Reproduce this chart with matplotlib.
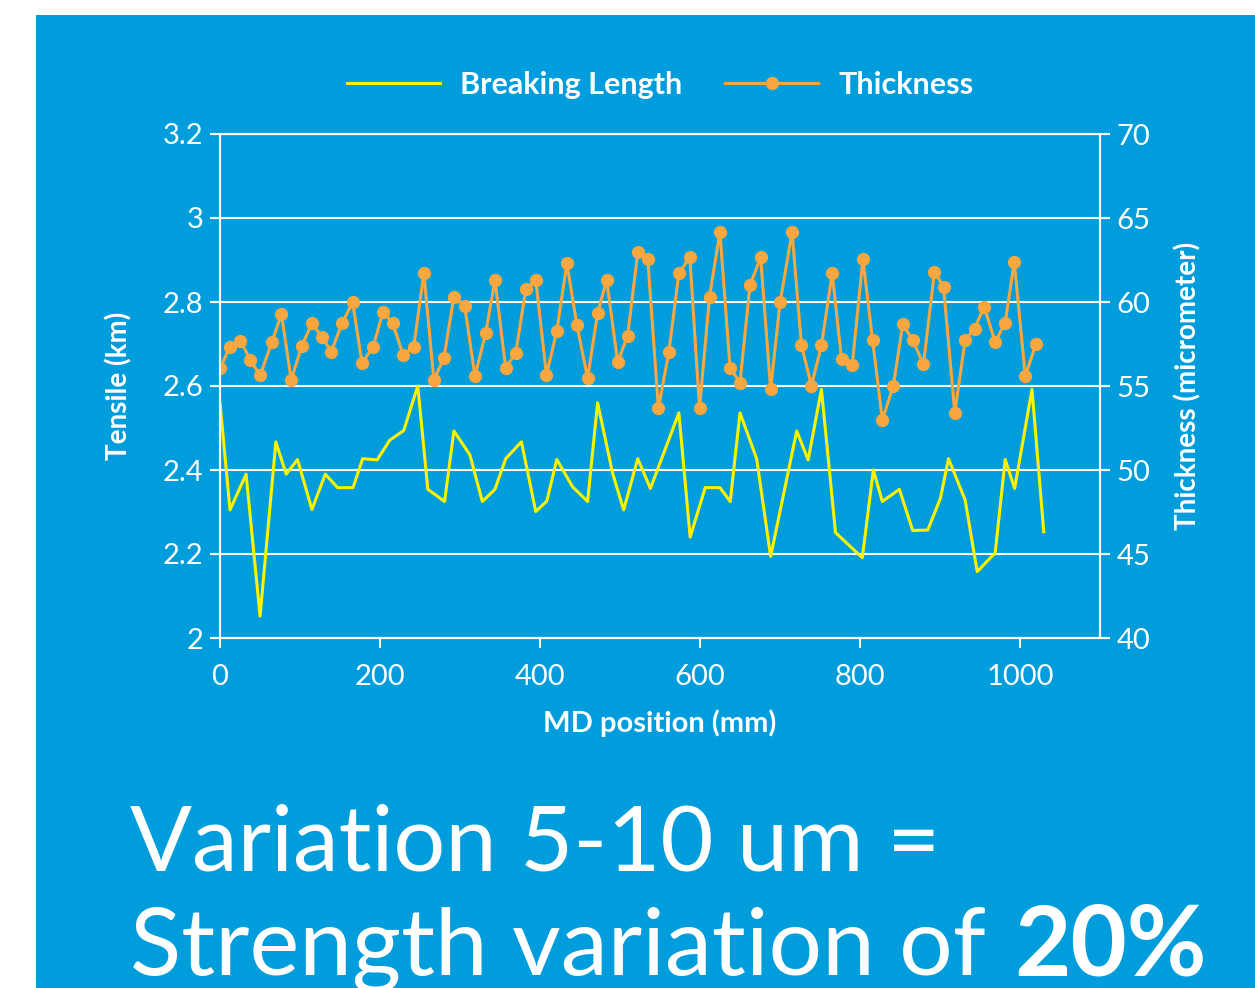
import matplotlib
matplotlib.use('Agg')
import matplotlib.pyplot as plt
from matplotlib.patches import Rectangle

# thickness samples (MD position in mm, thickness in micrometer)
thick_pos = [0, 12.5, 25.4, 38.0, 50.1, 64.8, 76.8, 89.0, 102.4, 114.9,
             127.4, 139.1, 152.5, 165.8, 177.6, 191.4, 203.9, 215.9, 228.9, 242.2,
             254.8, 267.3, 279.8, 292.4, 305.8, 318.7, 332.1, 343.7, 357.1, 369.7,
             382.2, 394.7, 408.1, 421.0, 433.6, 446.1, 459.5, 472.0, 483.3, 497.1,
             509.6, 522.2, 534.7, 548.0, 561.0, 573.6, 587.3, 599.4, 611.9, 624.9,
             637.5, 650.0, 662.5, 675.8, 688.3, 700.1, 715.1, 726.8, 739.3, 751.8,
             765.3, 776.9, 790.3, 803.6, 815.7, 827.9, 841.7, 853.4, 865.9, 879.3,
             893.1, 904.4, 918.5, 931.4, 943.2, 955.2, 969.0, 981.5, 992.8, 1006.6,
             1020.0]
thickness = [56.05, 57.34, 57.70, 56.55, 55.63, 57.6, 59.29, 55.36, 57.4, 58.73,
             57.93, 57.04, 58.73, 59.98, 56.35, 57.34, 59.42, 58.73, 56.85, 57.34,
             61.71, 55.36, 56.65, 60.32, 59.76, 55.6, 58.14, 61.31, 56.07, 56.98,
             60.75, 61.31, 55.65, 58.29, 62.3, 58.63, 55.48, 59.33, 61.31, 56.43,
             58.0, 62.96, 62.56, 53.67, 57.0, 61.71, 62.66, 53.67, 60.32, 64.17,
             56.09, 55.2, 61.01, 62.66, 54.8, 59.98, 64.17, 57.42, 55.02, 57.42,
             61.71, 56.59, 56.25, 62.54, 57.74, 52.98, 55.02, 58.67, 57.74, 56.29,
             61.8, 60.91, 53.41, 57.74, 58.41, 59.72, 57.62, 58.77, 62.4, 55.6,
             57.5]

# breaking length samples (MD position in mm, tensile in km)
bl_pos = [0, 12.5, 32.6, 50.1, 69.8, 82.7, 96.9, 114.9, 131.6, 147.0,
          166.3, 178.3, 196.4, 212.2, 229.7, 247.2, 259.8, 280.7, 292.4, 312.4,
          327.9, 343.7, 357.1, 376.8, 394.7, 408.5, 421.0, 440.7, 459.5, 472.0,
          490.8, 504.6, 522.2, 538.0, 573.6, 587.7, 606.5, 624.9, 637.8, 650.0,
          670.8, 688.3, 720.9, 735.2, 751.8, 769.4, 802.9, 816.7, 827.9, 849.2,
          865.9, 884.7, 900.6, 910.6, 931.4, 946.5, 969.0, 981.5, 993.3, 1015.0,
          1029.7]
breaking_length = [2.56, 2.305, 2.39, 2.052, 2.467, 2.39, 2.425, 2.306, 2.39, 2.358,
                   2.358, 2.427, 2.424, 2.471, 2.494, 2.60, 2.354, 2.325, 2.493, 2.436,
                   2.325, 2.354, 2.427, 2.467, 2.301, 2.326, 2.425, 2.36, 2.325, 2.56,
                   2.392, 2.305, 2.427, 2.356, 2.536, 2.24, 2.358, 2.358, 2.325, 2.536,
                   2.427, 2.194, 2.493, 2.424, 2.592, 2.251, 2.191, 2.4, 2.325, 2.354,
                   2.256, 2.257, 2.333, 2.427, 2.329, 2.158, 2.203, 2.425, 2.356, 2.592,
                   2.253]

left_ticks = [2, 2.2, 2.4, 2.6, 2.8, 3, 3.2]
left_labels = ['2', '2.2', '2.4', '2.6', '2.8', '3', '3.2']
right_ticks = [40, 45, 50, 55, 60, 65, 70]
x_ticks = [0, 200, 400, 600, 800, 1000]

blue = '#009ddc'
yellow = '#fff200'
orange = '#f9a73e'

plt.rcParams['font.family'] = ['Lato', 'DejaVu Sans']

fig = plt.figure(figsize=(12.55, 9.88), dpi=100)
fig.patch.set_facecolor('white')
fig.patches.append(Rectangle((36 / 1255, 0), 1 - 36 / 1255, 1 - 15 / 988,
                             transform=fig.transFigure, facecolor=blue,
                             edgecolor='none', zorder=-5))

ax = fig.add_axes([220 / 1255, 1 - 638 / 988, 880 / 1255, 504 / 988])
ax.set_facecolor(blue)
ax2 = ax.twinx()

l1, = ax.plot(bl_pos, breaking_length, color=yellow, lw=2.2, label='Breaking Length')
l2, = ax2.plot(thick_pos, thickness, color=orange, lw=2.2, marker='o', ms=8.5,
               label='Thickness')

ax.set_xlim(0, 1100)
ax.set_ylim(2, 3.2)
ax2.set_ylim(40, 70)
ax.set_xticks(x_ticks)
ax.set_yticks(left_ticks)
ax.set_yticklabels(left_labels)
ax2.set_yticks(right_ticks)

ax.grid(axis='y', color='white', lw=1.5)
ax.set_axisbelow(True)

for a in (ax, ax2):
    for s in a.spines.values():
        s.set_color('white')
        s.set_linewidth(1.5)
    a.tick_params(colors='white', labelsize=21, width=1.5, length=7)
ax.tick_params(axis='x', pad=12)
ax.tick_params(axis='y', pad=5)
ax2.tick_params(axis='y', pad=5)

ax.set_xlabel('MD position (mm)', color='white', fontsize=21, fontweight='bold', labelpad=14)
ax.set_ylabel('Tensile (km)', color='white', fontsize=20, fontweight='bold', labelpad=22)
ax2.set_ylabel('Thickness (micrometer)', color='white', fontsize=20, fontweight='bold',
               labelpad=17)

leg = ax.legend(handles=[l1, l2], loc='center', bbox_to_anchor=(0.5, 1.097),
                ncol=2, frameon=False, handlelength=3.05, columnspacing=1.4,
                handletextpad=0.65, prop={'size': 22, 'weight': 'bold'})
for t in leg.get_texts():
    t.set_color('white')

fig.text(130 / 1255, 1 - 870 / 988, 'Variation 5-10 um =', color='white',
         fontsize=66, va='baseline', ha='left')
t2 = fig.text(130 / 1255, 1 - 975 / 988, 'Strength variation of', color='white',
              fontsize=68, va='baseline', ha='left')
t3 = fig.text(0, 0, '20%', color='white', fontsize=70, fontweight='bold',
              va='baseline', ha='left')
fig.canvas.draw()
bb = t2.get_window_extent()
t3.set_position(((bb.x1 + 28) / fig.bbox.width, 1 - 975 / 988))

fig.savefig('out.png', dpi=100, facecolor=fig.get_facecolor())
